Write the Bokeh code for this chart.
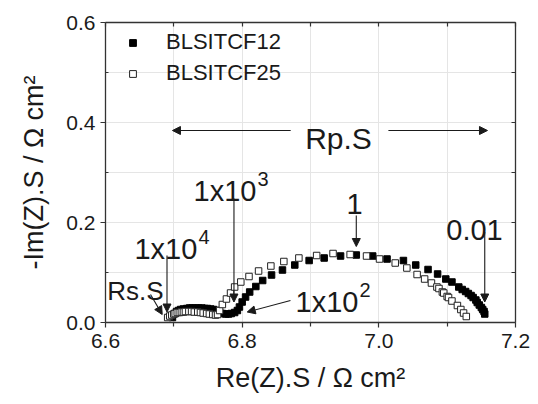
from bokeh.plotting import figure
from bokeh.models import (Label, Arrow, NormalHead, LinearAxis, Range1d, FixedTicker,
                          NumeralTickFormatter, Legend, LegendItem, ColumnDataSource)
from bokeh.embed import file_html
from bokeh.resources import INLINE

# Nyquist data, area-specific impedance (Ohm cm^2)
re_cf12 = [6.698, 6.701, 6.704, 6.707, 6.710, 6.714, 6.719, 6.723, 6.727, 6.732, 6.736,
           6.741, 6.745, 6.749, 6.754, 6.758, 6.762, 6.767, 6.771, 6.776, 6.780, 6.784,
           6.789, 6.793, 6.796, 6.800, 6.805, 6.811, 6.820, 6.830, 6.843, 6.859, 6.877,
           6.898, 6.920, 6.944, 6.967, 6.991, 7.012, 7.036, 7.054, 7.072, 7.086, 7.098,
           7.107, 7.117, 7.122, 7.127, 7.131, 7.135, 7.138, 7.142, 7.144, 7.147, 7.150,
           7.152, 7.154, 7.155]
im_cf12 = [0.010, 0.018, 0.022, 0.024, 0.026, 0.027, 0.028, 0.029, 0.029, 0.029, 0.029,
           0.029, 0.028, 0.028, 0.027, 0.026, 0.024, 0.020, 0.018, 0.017, 0.017, 0.018,
           0.020, 0.024, 0.031, 0.041, 0.051, 0.061, 0.072, 0.084, 0.095, 0.105, 0.115,
           0.124, 0.129, 0.133, 0.135, 0.133, 0.127, 0.124, 0.115, 0.106, 0.097, 0.087,
           0.081, 0.071, 0.066, 0.062, 0.058, 0.054, 0.050, 0.045, 0.040, 0.035, 0.030,
           0.026, 0.022, 0.017]

re_cf25 = [6.691, 6.694, 6.697, 6.700, 6.702, 6.705, 6.708, 6.711, 6.714, 6.717, 6.722,
           6.726, 6.730, 6.735, 6.739, 6.743, 6.748, 6.752, 6.757, 6.761, 6.764, 6.767,
           6.771, 6.777, 6.783, 6.789, 6.798, 6.810, 6.824, 6.842, 6.861, 6.883, 6.909,
           6.933, 6.958, 6.982, 7.001, 7.024, 7.041, 7.056, 7.067, 7.077, 7.085, 7.088,
           7.093, 7.095, 7.100, 7.102, 7.107, 7.115, 7.120, 7.124, 7.128]
im_cf25 = [0.010, 0.013, 0.015, 0.017, 0.018, 0.020, 0.020, 0.021, 0.021, 0.022, 0.022,
           0.022, 0.021, 0.021, 0.020, 0.019, 0.018, 0.017, 0.016, 0.015, 0.016, 0.024,
           0.036, 0.047, 0.059, 0.071, 0.081, 0.092, 0.103, 0.113, 0.122, 0.129, 0.134,
           0.138, 0.136, 0.133, 0.127, 0.119, 0.109, 0.096, 0.087, 0.079, 0.071, 0.068,
           0.061, 0.059, 0.052, 0.050, 0.043, 0.034, 0.026, 0.019, 0.012]

series_names = ["BLSITCF12", "BLSITCF25"]

x_major = [6.6, 6.8, 7.0, 7.2]
x_minor = [6.7, 6.9, 7.1]
y_major = [0.0, 0.2, 0.4, 0.6]
y_minor = [0.1, 0.3, 0.5]

FONT = "Liberation Sans"
INK = "#1a1a1a"

p = figure(width=538, height=404, x_range=Range1d(6.6, 7.2), y_range=Range1d(0.0, 0.6),
           output_backend="svg", toolbar_location=None,
           x_axis_location=None, y_axis_location=None,
           min_border_left=105, min_border_right=23, min_border_top=22, min_border_bottom=82)
p.outline_line_color = None
p.background_fill_color = "white"
p.border_fill_color = "white"


def style_axis(ax):
    ax.axis_line_color = "#333333"
    ax.axis_line_width = 1.3
    ax.major_tick_line_color = "#333333"
    ax.minor_tick_line_color = "#333333"
    ax.major_tick_line_width = 1.2
    ax.minor_tick_line_width = 1.2
    ax.major_label_text_font = FONT
    ax.major_label_text_font_size = "21px"
    ax.major_label_text_color = INK
    ax.axis_label_text_font = FONT
    ax.axis_label_text_font_size = "27px"
    ax.axis_label_text_font_style = "normal"
    ax.axis_label_text_color = INK


bottom = LinearAxis(ticker=FixedTicker(ticks=x_major, minor_ticks=x_minor),
                    formatter=NumeralTickFormatter(format="0.0"),
                    axis_label="Re(Z).S / \u03a9 cm\u00b2")
style_axis(bottom)
bottom.major_tick_out = 5
bottom.major_tick_in = 0
bottom.minor_tick_out = 4
bottom.minor_tick_in = 0
bottom.major_label_standoff = 6
bottom.axis_label_standoff = 12

left = LinearAxis(ticker=FixedTicker(ticks=y_major, minor_ticks=y_minor),
                  formatter=NumeralTickFormatter(format="0.0"),
                  axis_label="-Im(Z).S / \u03a9 cm\u00b2")
style_axis(left)
left.major_tick_out = 5
left.major_tick_in = 0
left.minor_tick_out = 0
left.minor_tick_in = 3
left.major_label_standoff = 5
left.axis_label_standoff = 14

# mirror axes: only inward tick marks, carried as minor ticks so no labels are drawn
top = LinearAxis(ticker=FixedTicker(ticks=[], minor_ticks=x_major + x_minor))
style_axis(top)
top.minor_tick_out = 0
top.minor_tick_in = 4

right = LinearAxis(ticker=FixedTicker(ticks=[], minor_ticks=y_major + y_minor))
style_axis(right)
right.minor_tick_out = 0
right.minor_tick_in = 4

p.add_layout(bottom, "below")
p.add_layout(left, "left")
p.add_layout(top, "above")
p.add_layout(right, "right")

src12 = ColumnDataSource(dict(x=re_cf12, y=im_cf12))
src25 = ColumnDataSource(dict(x=re_cf25, y=im_cf25))

r12 = p.scatter("x", "y", source=src12, marker="square", size=6.5,
                fill_color="black", line_color="black", line_width=1)
r25 = p.scatter("x", "y", source=src25, marker="square", size=6.5,
                fill_color="white", line_color="#222222", line_width=1)

legend = Legend(items=[LegendItem(label=series_names[0], renderers=[r12]),
                       LegendItem(label=series_names[1], renderers=[r25])],
                location=(19, 236), orientation="vertical",
                background_fill_alpha=0, border_line_color=None,
                label_text_font=FONT, label_text_font_size="22px", label_text_color=INK,
                glyph_width=17, glyph_height=25, label_height=25,
                label_standoff=25, spacing=5, padding=0, margin=0)
p.add_layout(legend)


def note(x, y, text, size="29px", align="left", dx=0, dy=0):
    p.add_layout(Label(x=x, y=y, text=text, text_font=FONT, text_font_size=size,
                       text_color=INK, text_align=align, text_baseline="alphabetic",
                       x_offset=dx, y_offset=dy, level="overlay"))


def power_of_ten(x, y, exponent):
    note(x, y, "1x10")
    # exponent raised 12 px above the baseline, just right of "1x10"
    note(x, y, exponent, size="20px", dx=64, dy=12)


def arrow(x0, y0, x1, y1):
    p.add_layout(Arrow(x_start=x0, y_start=y0, x_end=x1, y_end=y1,
                       line_color=INK, line_width=1.1,
                       end=NormalHead(size=8, fill_color=INK, line_color=INK, line_width=1)))


# polarisation resistance span
note(6.941, 0.368, "Rp.S", size="30px", align="center")
arrow(6.871, 0.384, 6.698, 0.384)
arrow(7.014, 0.384, 7.159, 0.384)

# series resistance (kept just inside the frame so the whole label shows)
note(6.6024, 0.064, "Rs.S", size="26px")
arrow(6.6659, 0.056, 6.683, 0.016)

# frequency markers (Hz)
power_of_ten(6.6424, 0.147, "4")
arrow(6.690, 0.134, 6.690, 0.021)

power_of_ten(6.7288, 0.264, "3")
arrow(6.788, 0.248, 6.788, 0.041)

power_of_ten(6.8781, 0.042, "2")
arrow(6.8707, 0.044, 6.8074, 0.021)

note(6.9644, 0.2374, "1", align="center")
arrow(6.967, 0.214, 6.967, 0.152)

note(7.140, 0.1854, "0.01", align="center")
arrow(7.155, 0.181, 7.155, 0.041)

open("out.html", "w").write(file_html(p, INLINE))
